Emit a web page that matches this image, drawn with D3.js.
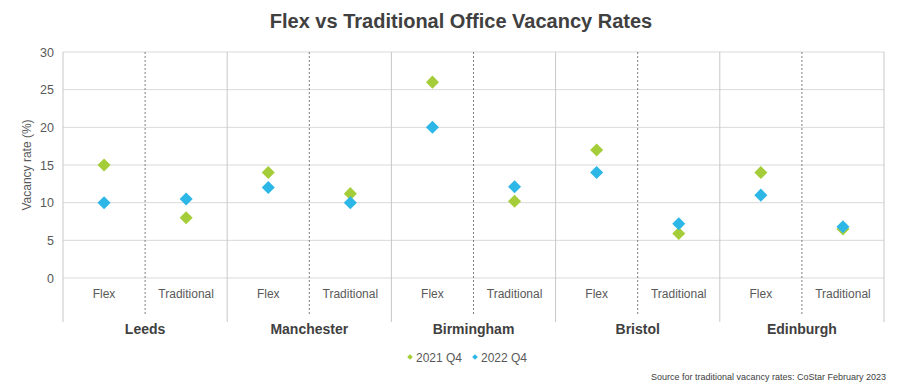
<!DOCTYPE html>
<html><head><meta charset="utf-8">
<script src="https://cdn.jsdelivr.net/npm/d3@7"></script>
<style>body{margin:0;background:#fff;}svg{display:block;font-family:"Liberation Sans",Arial,sans-serif;}</style>
</head><body><svg id="c" width="903" height="386"></svg>
<script>
const cities = ["Leeds","Manchester","Birmingham","Bristol","Edinburgh"];
const types = ["Flex","Traditional"];
const seriesNames = ["2021 Q4","2022 Q4"];
const colors = ["#a5cd39","#2cb7e6"];
// values per city: [Flex, Traditional]
const q2021 = [[15,8],[14,11.2],[26,10.2],[17,5.9],[14,6.5]];
const q2022 = [[10,10.5],[12,10],[20,12.1],[14,7.2],[11,6.8]];
const yTicks = [0,5,10,15,20,25,30];

const svg = d3.select("#c");
const L = 63, R = 884, T = 52, B0 = 278;
const y = d3.scaleLinear().domain([0,30]).range([B0,T]);
const xCity = d3.scaleBand().domain(cities).range([L,R]).padding(0);
const xType = d3.scaleBand().domain(types).range([0,xCity.bandwidth()]).padding(0);

// title
svg.append("text").attr("x",461).attr("y",28).attr("text-anchor","middle")
  .attr("font-size",20).attr("font-weight","bold").attr("fill","#404040")
  .text("Flex vs Traditional Office Vacancy Rates");

// gridlines
const g = svg.append("g");
g.selectAll("line.grid").data(yTicks).join("line")
  .attr("x1",L).attr("x2",R).attr("y1",d=>y(d)).attr("y2",d=>y(d))
  .attr("stroke","#d9d9d9").attr("stroke-width",1);
g.selectAll("text.yt").data(yTicks).join("text")
  .attr("x",L-9).attr("y",d=>y(d)+4.5).attr("text-anchor","end")
  .attr("font-size",12.5).attr("fill","#595959").text(d=>d);

// solid city separators
const bounds = cities.map(c=>xCity(c)).concat([R]);
g.selectAll("line.sep").data(bounds).join("line")
  .attr("x1",d=>d).attr("x2",d=>d).attr("y1",T).attr("y2",322)
  .attr("stroke","#c8c8c8").attr("stroke-width",1);
// dashed type separators
g.selectAll("line.dash").data(cities).join("line")
  .attr("x1",c=>xCity(c)+xType("Traditional")).attr("x2",c=>xCity(c)+xType("Traditional"))
  .attr("y1",T).attr("y2",315)
  .attr("stroke","#7f7f7f").attr("stroke-width",1).attr("stroke-dasharray","2,2");

// type labels
cities.forEach(c=>{
  types.forEach(t=>{
    svg.append("text").attr("x",xCity(c)+xType(t)+xType.bandwidth()/2).attr("y",298)
      .attr("text-anchor","middle").attr("font-size",12).attr("fill","#595959").text(t);
  });
  svg.append("text").attr("x",xCity(c)+xCity.bandwidth()/2).attr("y",334)
    .attr("text-anchor","middle").attr("font-size",14).attr("font-weight","bold").attr("fill","#404040").text(c);
});

// y label
svg.append("text").attr("transform","translate(31,165) rotate(-90)")
  .attr("text-anchor","middle").attr("font-size",12).attr("fill","#595959").text("Vacancy rate (%)");

// points
const sym = d3.symbol().type(d3.symbolSquare).size(85);
[q2021,q2022].forEach((series,si)=>{
  const pts = [];
  cities.forEach((c,ci)=>types.forEach((t,ti)=>pts.push({x:xCity(c)+xType(t)+xType.bandwidth()/2,v:series[ci][ti]})));
  svg.append("g").selectAll("path").data(pts).join("path")
    .attr("d",sym).attr("fill",colors[si])
    .attr("transform",d=>`translate(${d.x},${y(d.v)}) rotate(45)`);
});

// legend
const lg = svg.append("g");
const lx = [410,475];
seriesNames.forEach((s,i)=>{
  lg.append("path").attr("d",d3.symbol().type(d3.symbolSquare).size(16)())
    .attr("fill",colors[i]).attr("transform",`translate(${lx[i]},357) rotate(45)`);
  lg.append("text").attr("x",lx[i]+6).attr("y",361.5).attr("font-size",12).attr("fill","#595959").text(s);
});

// source
svg.append("text").attr("x",886).attr("y",380).attr("text-anchor","end")
  .attr("font-size",9).attr("fill","#404040").text("Source for traditional vacancy rates: CoStar February 2023");
</script></body></html>
